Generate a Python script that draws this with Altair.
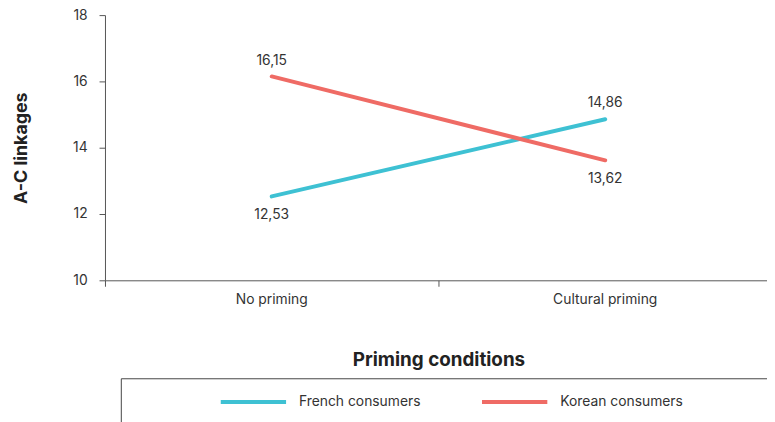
import altair as alt
import pandas as pd

conditions = ["No priming", "Cultural priming"]
series = ["French consumers", "Korean consumers"]
french = [12.53, 14.86]
korean = [16.15, 13.62]
colors = ["#3EC1D3", "#EF6B65"]
y_ticks = [10, 12, 14, 16, 18]

rows = []
for s, vals in zip(series, [french, korean]):
    for c, v in zip(conditions, vals):
        rows.append({"condition": c, "series": s, "value": v})
df = pd.DataFrame(rows)

FONT = "Inter, 'Inter Variable', Roboto, sans-serif"
TEXT = "#333333"
AXIS = "#555555"

x_enc = alt.X(
    "condition:N",
    sort=conditions,
    scale=alt.Scale(type="band", paddingInner=0, paddingOuter=0),
    axis=alt.Axis(
        title="Priming conditions",
        bandPosition=0,
        labelAngle=0,
        labelPadding=6,
        titlePadding=45,
        titleFontSize=19,
    ),
)
y_enc = alt.Y(
    "value:Q",
    scale=alt.Scale(domain=[10, 18], nice=False, zero=False),
    axis=alt.Axis(
        values=y_ticks,
        title="A-C linkages",
        grid=False,
        labelPadding=12,
        titlePadding=43,
        titleFontSize=18,
    ),
)
color_enc = alt.Color(
    "series:N",
    scale=alt.Scale(domain=series, range=colors),
    legend=alt.Legend(
        orient="none",
        legendX=115,
        legendY=356,
        direction="horizontal",
        title=None,
        symbolType="stroke",
        symbolSize=4356,
        symbolStrokeWidth=4,
        labelFontSize=14,
        labelFont=FONT,
        labelColor=TEXT,
        labelOffset=11,
        columnPadding=54,
        padding=0,
    ),
)

base = alt.Chart(df)
lines = base.mark_line(strokeWidth=4, strokeCap="round").encode(x=x_enc, y=y_enc, color=color_enc)

lab_base = base.transform_joinaggregate(maxv="max(value)", groupby=["condition"]).transform_calculate(
    lab="replace(format(datum.value, '.2f'), '.', ',')"
)
above = lab_base.transform_filter("datum.value == datum.maxv").mark_text(
    dy=-16, fontSize=14, font=FONT, color=TEXT
).encode(x=alt.X("condition:N", sort=conditions), y="value:Q", text="lab:N")
below = lab_base.transform_filter("datum.value < datum.maxv").mark_text(
    dy=19, fontSize=14, font=FONT, color=TEXT
).encode(x=alt.X("condition:N", sort=conditions), y="value:Q", text="lab:N")

frame = alt.Chart(pd.DataFrame({"k": [0]})).mark_rect(
    fillOpacity=0, stroke="#444444", strokeWidth=1
).encode(x=alt.value(16.5), x2=alt.value(900), y=alt.value(367.5), y2=alt.value(600))

chart = (
    alt.layer(lines, above, below, frame)
    .properties(
        width=674,
        height=268,
        autosize=alt.AutoSizeParams(type="none"),
        padding={"left": 98, "top": 5, "right": -5, "bottom": 141},
    )
    .configure_view(stroke=None)
    .configure_axis(
        labelFont=FONT,
        titleFont=FONT,
        labelFontSize=14,
        labelColor=TEXT,
        titleFontWeight="bold",
        titleColor="#222222",
        domainColor=AXIS,
        tickColor=AXIS,
        tickSize=6,
    )
)

chart.save("out.html", embed_options={"renderer": "svg", "actions": False})
